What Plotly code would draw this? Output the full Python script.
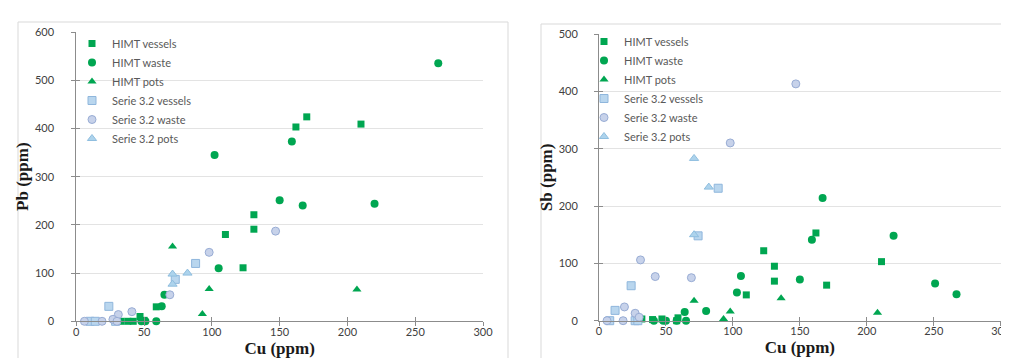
import plotly.graph_objects as go

# ---------------- data: left panel (Cu vs Pb) ----------------
pb_himt_vessels_cu = [170, 162, 210, 131, 131, 110, 123, 59, 33, 38, 42, 47, 50]
pb_himt_vessels_pb = [424, 403, 409, 221, 191, 180, 111, 30, 0, 0, 0, 10, 2]
pb_himt_waste_cu = [267, 159, 102, 150, 167, 220, 105, 65, 63, 48, 51, 59]
pb_himt_waste_pb = [535, 373, 345, 251, 240, 244, 110, 55, 31, 0, 0, 0]
pb_himt_pots_cu = [71, 98, 207, 93]
pb_himt_pots_pb = [155, 67, 66, 15]
pb_s32_vessels_cu = [88, 73, 24, 10, 14, 29]
pb_s32_vessels_pb = [120, 87, 31, 0, 0, 0]
pb_s32_waste_cu = [147, 98, 69, 41, 31, 27, 6, 19, 30]
pb_s32_waste_pb = [187, 143, 55, 20, 14, 4, 0, 0, 0]
pb_s32_pots_cu = [71, 82, 71]
pb_s32_pots_pb = [98, 100, 77]

# ---------------- data: right panel (Cu vs Sb) ----------------
sb_himt_vessels_cu = [162, 123, 131, 131, 170, 211, 110, 32, 40, 47, 59, 58]
sb_himt_vessels_sb = [153, 122, 95, 69, 62, 103, 45, 3, 2, 3, 5, 0]
sb_himt_waste_cu = [167, 159, 220, 150, 251, 267, 106, 103, 80, 64, 41, 48, 50, 58, 65]
sb_himt_waste_sb = [214, 141, 148, 72, 65, 46, 78, 49, 17, 15, 0, 0, 0, 0, 0]
sb_himt_pots_cu = [71, 136, 208, 98, 93]
sb_himt_pots_sb = [35, 39, 14, 16, 3]
sb_s32_vessels_cu = [89, 74, 24, 12, 8, 27, 29]
sb_s32_vessels_sb = [231, 148, 61, 18, 0, 0, 0]
sb_s32_waste_cu = [147, 98, 31, 42, 69, 19, 27, 30, 6, 18]
sb_s32_waste_sb = [413, 310, 106, 77, 75, 24, 13, 6, 0, 0]
sb_s32_pots_cu = [71, 82, 71]
sb_s32_pots_sb = [283, 233, 150]

series_names = ["HIMT vessels", "HIMT waste", "HIMT pots",
                "Serie 3.2 vessels", "Serie 3.2 waste", "Serie 3.2 pots"]
x_ticks = [0, 50, 100, 150, 200, 250, 300]
pb_ticks = [0, 100, 200, 300, 400, 500, 600]
sb_ticks = [0, 100, 200, 300, 400, 500]

GREEN = "#00a651"
styles = [
    dict(symbol="square", size=7, color=GREEN, line=dict(width=0)),
    dict(symbol="circle", size=8, color=GREEN, line=dict(width=0)),
    dict(symbol="triangle-up", size=8, color=GREEN, line=dict(width=0)),
    dict(symbol="square", size=8, color="#b9d6ee", line=dict(width=1, color="#8fb6dc")),
    dict(symbol="circle", size=8, color="#c7d2ea", line=dict(width=1, color="#98acd4")),
    dict(symbol="triangle-up", size=8, color="#add3ec", line=dict(width=1, color="#8fbedf")),
]

left = [(pb_himt_vessels_cu, pb_himt_vessels_pb), (pb_himt_waste_cu, pb_himt_waste_pb),
        (pb_himt_pots_cu, pb_himt_pots_pb), (pb_s32_vessels_cu, pb_s32_vessels_pb),
        (pb_s32_waste_cu, pb_s32_waste_pb), (pb_s32_pots_cu, pb_s32_pots_pb)]
right = [(sb_himt_vessels_cu, sb_himt_vessels_sb), (sb_himt_waste_cu, sb_himt_waste_sb),
         (sb_himt_pots_cu, sb_himt_pots_sb), (sb_s32_vessels_cu, sb_s32_vessels_sb),
         (sb_s32_waste_cu, sb_s32_waste_sb), (sb_s32_pots_cu, sb_s32_pots_sb)]

fig = go.Figure()
for name, st, (xs, ys) in zip(series_names, styles, left):
    fig.add_trace(go.Scatter(x=xs, y=ys, mode="markers", name=name, marker=st,
                             xaxis="x", yaxis="y", legend="legend", cliponaxis=False))
for name, st, (xs, ys) in zip(series_names, styles, right):
    fig.add_trace(go.Scatter(x=xs, y=ys, mode="markers", name=name, marker=st,
                             xaxis="x2", yaxis="y2", legend="legend2", cliponaxis=False))
# empty traces so that the overlay axes (inner half of the crossing ticks) get drawn
fig.add_trace(go.Scatter(x=[], y=[], xaxis="x3", yaxis="y3", showlegend=False, hoverinfo="skip"))
fig.add_trace(go.Scatter(x=[], y=[], xaxis="x4", yaxis="y4", showlegend=False, hoverinfo="skip"))

W, H = 1009, 358
def px(v):
    return v / W
def py(v):
    return 1 - v / H

TICKF = dict(family="Lato, Noto Sans, sans-serif", size=11, color="#404040")
TITLEF = dict(family="Liberation Serif, Times New Roman, serif", size=17, color="#1a1a1a")
AXC = "#8c8c8c"
GRIDC = "#e3e3e3"

def xaxis(domain, anchor, overlay=None, inner=False):
    d = dict(domain=domain, anchor=anchor, range=[0, 300], tickmode="array",
             tickvals=x_ticks, showline=True, linecolor=AXC, linewidth=1,
             showgrid=False, zeroline=False, ticklen=4, tickcolor=AXC,
             automargin=False, fixedrange=True)
    if inner:
        d.update(ticks="inside", showticklabels=False, overlaying=overlay, showline=False)
    else:
        d.update(ticks="outside", tickfont=TICKF, ticklabelstandoff=-4,
                 title=dict(text="<b>Cu (ppm)</b>", font=TITLEF, standoff=5))
    return d

def yaxis(domain, anchor, rng, ticks, title, overlay=None, inner=False, lstand=15):
    d = dict(domain=domain, anchor=anchor, range=rng, tickmode="array",
             tickvals=ticks, showline=True, linecolor=AXC, linewidth=1,
             zeroline=False, ticklen=4, tickcolor=AXC,
             automargin=False, fixedrange=True)
    if inner:
        d.update(ticks="inside", showticklabels=False, overlaying=overlay,
                 showline=False, showgrid=False)
    else:
        d.update(ticks="outside", tickfont=TICKF, ticklabelstandoff=lstand,
                 showgrid=True, gridcolor=GRIDC, gridwidth=1,
                 title=dict(text="<b>" + title + "</b>", font=TITLEF, standoff=1))
    return d

xd1 = [px(68.3), px(475)]
yd1 = [py(313.3), py(24)]
xd2 = [px(591), px(992.7)]
yd2 = [py(312.7), py(26)]

LEGF = dict(family="Lato, Noto Sans, sans-serif", size=11, color="#595959")

fig.update_layout(
    width=W, height=H, template="none",
    margin=dict(l=0, r=0, t=0, b=0, autoexpand=False),
    paper_bgcolor="white", plot_bgcolor="rgba(0,0,0,0)",
    showlegend=True,
    xaxis=xaxis(xd1, "y"),
    yaxis=yaxis(yd1, "x", [0, 600], pb_ticks, "Pb (ppm)", lstand=15),
    xaxis2=xaxis(xd2, "y2"),
    yaxis2=yaxis(yd2, "x2", [0, 500], sb_ticks, "Sb (ppm)", lstand=14),
    xaxis3=xaxis(xd1, "y", overlay="x", inner=True),
    yaxis3=yaxis(yd1, "x", [0, 600], pb_ticks, "", overlay="y", inner=True),
    xaxis4=xaxis(xd2, "y2", overlay="x2", inner=True),
    yaxis4=yaxis(yd2, "x2", [0, 500], sb_ticks, "", overlay="y2", inner=True),
    legend=dict(x=px(64), y=py(21), xanchor="left", yanchor="top",
                bgcolor="rgba(0,0,0,0)", borderwidth=0, font=LEGF),
    legend2=dict(x=px(576), y=py(19), xanchor="left", yanchor="top",
                 bgcolor="rgba(0,0,0,0)", borderwidth=0, font=LEGF),
    shapes=[
        # chart frames
        dict(type="rect", xref="paper", yref="paper", x0=px(10), x1=px(500),
             y0=-0.2, y1=py(14), line=dict(color="#d9d9d9", width=1), layer="below"),
        dict(type="rect", xref="paper", yref="paper", x0=px(533), x1=px(1012),
             y0=-0.2, y1=py(16), line=dict(color="#d9d9d9", width=1), layer="below"),
        # white legend boxes hiding the gridlines behind the legends
        dict(type="rect", xref="paper", yref="paper", x0=px(69), x1=px(200),
             y0=py(145), y1=py(38), fillcolor="white", line=dict(width=0), layer="between"),
        dict(type="rect", xref="paper", yref="paper", x0=px(592), x1=px(703),
             y0=py(150), y1=py(33), fillcolor="white", line=dict(width=0), layer="between"),
    ],
)

fig.write_html("out.html")
